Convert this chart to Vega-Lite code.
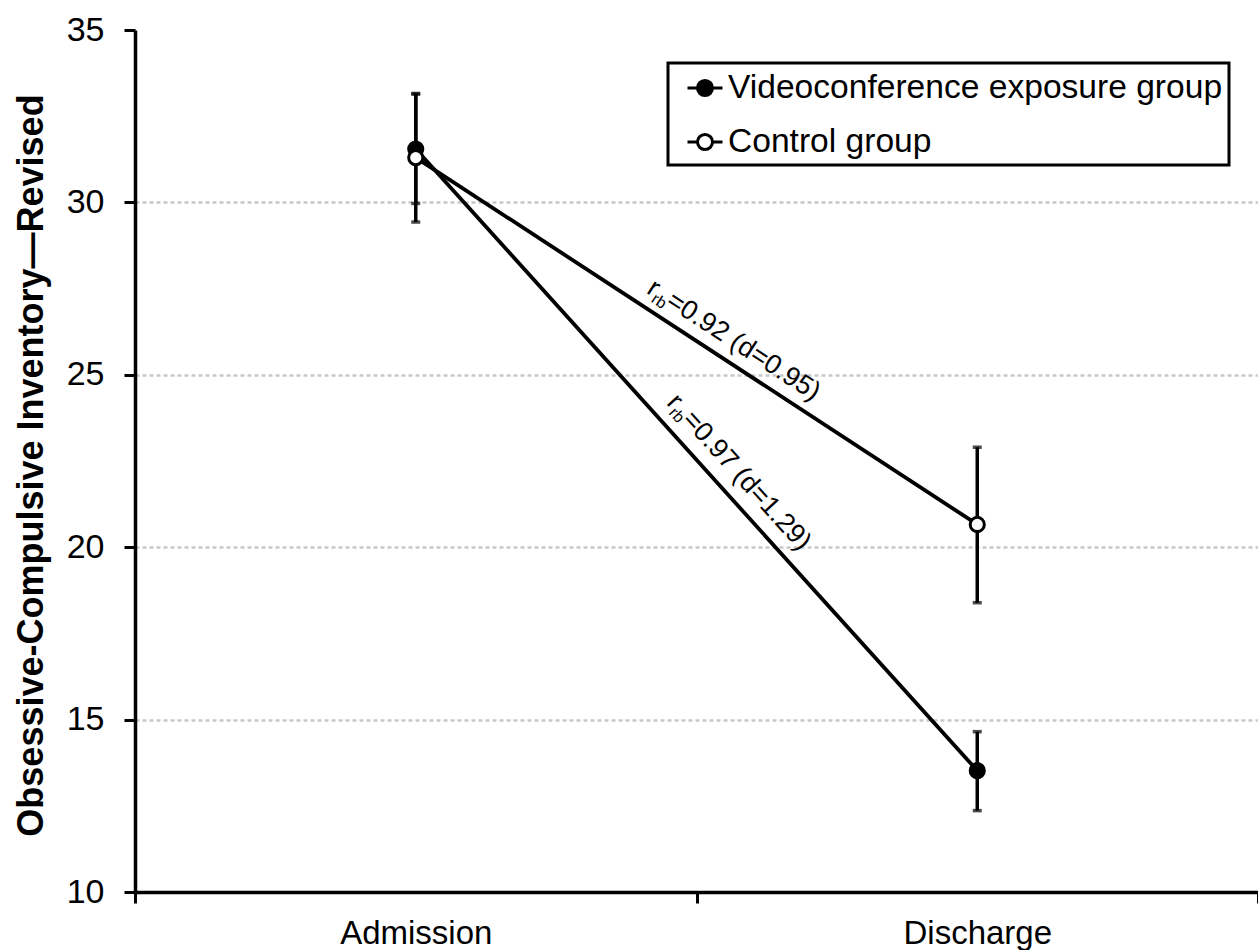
{
  "$schema": "https://vega.github.io/schema/vega-lite/v6.json",
  "width": 1123,
  "height": 862,
  "autosize": {"type": "none"},
  "padding": {"left": 135, "top": 30, "right": 0, "bottom": 58},
  "background": "white",
  "config": {
    "view": {"stroke": null},
    "font": "Liberation Sans",
    "legend": {"strokeWidth": 3}
  },
  "datasets": {
    "means": [
      {"group": "Videoconference exposure group", "time": "Admission", "mean": 31.55, "lo": 29.97, "hi": 33.14},
      {"group": "Videoconference exposure group", "time": "Discharge", "mean": 13.52, "lo": 12.36, "hi": 14.65},
      {"group": "Control group", "time": "Admission", "mean": 31.3, "lo": 29.43, "hi": 33.16},
      {"group": "Control group", "time": "Discharge", "mean": 20.66, "lo": 18.39, "hi": 22.9}
    ],
    "notes": [
      {"pair": "control", "part": "big", "text": "r", "x": 0.909, "y": 27.39},
      {"pair": "control", "part": "sub", "text": "rb", "x": 0.9175, "y": 27.126},
      {"pair": "control", "part": "big", "text": "=0.92 (d=0.95)", "x": 0.9434, "y": 27.027},
      {"pair": "video", "part": "big", "text": "r", "x": 0.9453, "y": 24.171},
      {"pair": "video", "part": "sub", "text": "rb", "x": 0.9494, "y": 23.881},
      {"pair": "video", "part": "big", "text": "=0.97 (d=1.29)", "x": 0.9728, "y": 23.675}
    ]
  },
  "layer": [
    {
      "data": {"name": "means"},
      "encoding": {
        "x": {
          "field": "time", "type": "nominal",
          "scale": {"type": "band", "domain": ["Admission", "Discharge"], "paddingInner": 0, "paddingOuter": 0},
          "axis": {
            "title": null, "labelAngle": 0, "labelFontSize": 33, "labelColor": "black",
            "labelPadding": 14, "tickBand": "extent", "tickSize": 11, "tickWidth": 3,
            "tickColor": "black", "domainColor": "black", "domainWidth": 3.5, "grid": false
          }
        }
      },
      "layer": [
        {
          "mark": {"type": "line", "color": "black", "strokeWidth": 3.8},
          "encoding": {
            "y": {
              "field": "mean", "type": "quantitative",
              "scale": {"domain": [10, 35], "nice": false, "zero": false},
              "axis": {
                "values": [10, 15, 20, 25, 30, 35],
                "title": "Obsessive-Compulsive Inventory—Revised",
                "titleFontSize": 36, "titleFontWeight": "bold", "titleColor": "black",
                "titleX": -93, "titleY": 435, "titleAngle": -90, "titleAlign": "center", "titleBaseline": "alphabetic",
                "labelFontSize": 34, "labelColor": "black", "labelPadding": 20,
                "tickSize": 11, "tickWidth": 3, "tickColor": "black",
                "domainColor": "black", "domainWidth": 3.5,
                "grid": true, "gridColor": "#c8c8c8", "gridDash": [4, 3], "gridWidth": 2.5,
                "gridOpacity": {"condition": {"test": "datum.value == 35 || datum.value == 10", "value": 0}, "value": 1}
              }
            },
            "detail": {"field": "group", "type": "nominal"}
          }
        },
        {
          "mark": {"type": "rule", "color": "black", "strokeWidth": 3.5},
          "encoding": {
            "y": {"field": "lo", "type": "quantitative", "scale": {"domain": [10, 35], "nice": false, "zero": false}},
            "y2": {"field": "hi"}
          }
        },
        {
          "mark": {"type": "tick", "color": "black", "size": 9, "thickness": 3.5, "orient": "horizontal"},
          "encoding": {
            "y": {"field": "lo", "type": "quantitative", "scale": {"domain": [10, 35], "nice": false, "zero": false}}
          }
        },
        {
          "mark": {"type": "tick", "color": "black", "size": 9, "thickness": 3.5, "orient": "horizontal"},
          "encoding": {
            "y": {"field": "hi", "type": "quantitative", "scale": {"domain": [10, 35], "nice": false, "zero": false}}
          }
        },
        {
          "mark": {"type": "point", "shape": "circle", "filled": true, "size": 200, "stroke": "black", "strokeWidth": 3, "opacity": 1},
          "encoding": {
            "y": {"field": "mean", "type": "quantitative", "scale": {"domain": [10, 35], "nice": false, "zero": false}},
            "fill": {
              "field": "group", "type": "nominal",
              "scale": {"domain": ["Videoconference exposure group", "Control group"], "range": ["black", "white"]},
              "legend": {
                "title": null, "orient": "none", "legendX": 533, "legendY": 33,
                "symbolType": "M-1,0L-0.43,0M0.43,0L1,0M-0.43,0A0.43,0.43,0,1,1,0.43,0A0.43,0.43,0,1,1,-0.43,0Z",
                "symbolSize": 1225, "symbolStrokeColor": "black", "symbolStrokeWidth": 3, "symbolOffset": 12,
                "labelFontSize": 33.6, "labelColor": "black", "labelOffset": 4, "labelLimit": 0,
                "padding": 6, "rowPadding": 18, "strokeColor": "black",
                "encode": {"legend": {"update": {"strokeWidth": {"value": 3}}}}
              }
            }
          }
        }
      ]
    },
    {
      "data": {"name": "notes"},
      "encoding": {
        "x": {"field": "x", "type": "quantitative", "scale": {"domain": [0, 2], "nice": false, "zero": false}, "axis": null},
        "y": {"field": "y", "type": "quantitative", "scale": {"domain": [10, 35], "nice": false, "zero": false}},
        "text": {"field": "text"}
      },
      "layer": [
        {
          "transform": [{"filter": "datum.pair == 'control' && datum.part == 'big'"}],
          "mark": {"type": "text", "fontSize": 27, "angle": 33, "align": "left", "baseline": "alphabetic", "color": "black"}
        },
        {
          "transform": [{"filter": "datum.pair == 'control' && datum.part == 'sub'"}],
          "mark": {"type": "text", "fontSize": 16, "angle": 33, "align": "left", "baseline": "alphabetic", "color": "black"}
        },
        {
          "transform": [{"filter": "datum.pair == 'video' && datum.part == 'big'"}],
          "mark": {"type": "text", "fontSize": 27, "angle": 47.9, "align": "left", "baseline": "alphabetic", "color": "black"}
        },
        {
          "transform": [{"filter": "datum.pair == 'video' && datum.part == 'sub'"}],
          "mark": {"type": "text", "fontSize": 16, "angle": 47.9, "align": "left", "baseline": "alphabetic", "color": "black"}
        }
      ]
    }
  ],
  "resolve": {"scale": {"x": "independent"}}
}
